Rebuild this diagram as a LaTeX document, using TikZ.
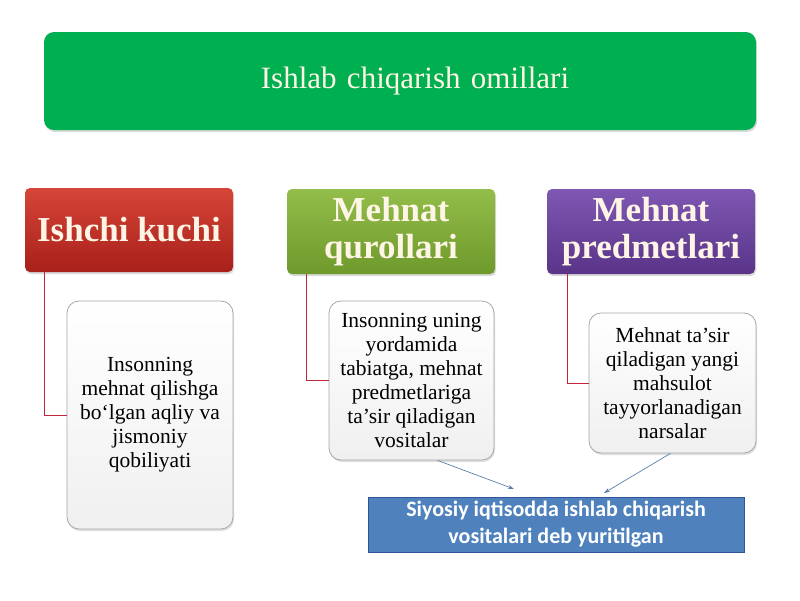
\documentclass[tikz,border=0pt]{standalone}
\usepackage{fontspec}
\setmainfont{Liberation Serif}
\newfontfamily\calfont{Carlito}
\usetikzlibrary{shadows,arrows.meta}
\definecolor{titlegreen}{HTML}{00B050}
\definecolor{redtop}{HTML}{D64538}
\definecolor{redbot}{HTML}{A8201A}
\definecolor{olivetop}{HTML}{93BD4A}
\definecolor{olivebot}{HTML}{6E9A2C}
\definecolor{purtop}{HTML}{7E57B2}
\definecolor{purbot}{HTML}{5A3489}
\definecolor{cream}{HTML}{FFF5E6}
\definecolor{linkred}{HTML}{C0263A}
\definecolor{bluebox}{HTML}{4F81BD}
\definecolor{blueedge}{HTML}{2F5597}
\definecolor{arrowcol}{HTML}{5A7FA8}
\tikzset{
  x=1pt,y=-1pt,
  headbox/.style={rounded corners=5pt,draw=none,drop shadow={opacity=0.3,shadow xshift=1pt,shadow yshift=-2pt},
    text=cream,font=\bfseries\fontsize{35}{37}\selectfont,align=center,inner sep=0pt},
  infobox/.style={rounded corners=12pt,draw=black!35,line width=0.8pt,top color=white,bottom color=black!6,
    drop shadow={opacity=0.25,shadow xshift=1pt,shadow yshift=-2pt},
    font=\fontsize{21.5}{24}\selectfont,align=center,inner sep=0pt},
  linkline/.style={draw=linkred,line width=1pt},
  noteline/.style={draw=arrowcol,line width=0.7pt,-{Stealth[length=6pt,width=4pt]}}
}
\begin{document}
\begin{tikzpicture}
\useasboundingbox (0,0) rectangle (800,600);
% title
\node[rounded corners=10pt,fill=titlegreen,minimum width=712pt,minimum height=98pt,
  drop shadow={opacity=0.3,shadow xshift=1pt,shadow yshift=-2pt},inner sep=0pt,
  text=cream,font=\fontsize{31}{34}\selectfont,text width=712pt,align=center] (title) at (400,81) {\hspace*{30pt}Ishlab chiqarish omillari};
% heads
\node[headbox,top color=redtop,bottom color=redbot,minimum width=208pt,minimum height=84pt] (h1) at (129,230) {Ishchi kuchi};
\node[headbox,top color=olivetop,bottom color=olivebot,minimum width=208pt,minimum height=85pt] (h2) at (391,231.5) {Mehnat\\qurollari};
\node[headbox,top color=purtop,bottom color=purbot,minimum width=208pt,minimum height=85pt] (h3) at (651,231.5) {Mehnat\\predmetlari};
% info boxes
\node[infobox,minimum width=166pt,minimum height=228pt] (b1) at (150,415) {Insonning\\mehnat qilishga\\bo‘lgan aqliy va\\jismoniy\\qobiliyati};
\node[infobox,minimum width=165pt,minimum height=159pt] (b2) at (411.5,380.5) {Insonning uning\\yordamida\\tabiatga, mehnat\\predmetlariga\\ta’sir qiladigan\\vositalar};
\node[infobox,minimum width=167pt,minimum height=140pt] (b3) at (672.5,383) {Mehnat ta’sir\\qiladigan yangi\\mahsulot\\tayyorlanadigan\\narsalar};
% links
\draw[linkline] (h1.south west) ++(20,0) coordinate (c1) |- (b1.west);
\draw[linkline] (h2.south west) ++(20,0) coordinate (c2) |- (b2.west);
\draw[linkline] (h3.south west) ++(21,0) coordinate (c3) |- (b3.west);
% blue box
\node[fill=bluebox,draw=blueedge,line width=0.8pt,minimum width=376pt,minimum height=55pt,
  text=white,font=\calfont\bfseries\fontsize{22}{27}\selectfont,align=center,inner sep=0pt] (note) at (556,524.5)
  {Siyosiy iqtisodda ishlab chiqarish\\vositalari deb yuritilgan};
\coordinate (a1) at (514,489);
\coordinate (a2) at (604,493);
\draw[noteline] ([xshift=26pt]b2.south) -- (a1);
\draw[noteline] ([xshift=-2pt]b3.south) -- (a2);
\end{tikzpicture}
\end{document}
